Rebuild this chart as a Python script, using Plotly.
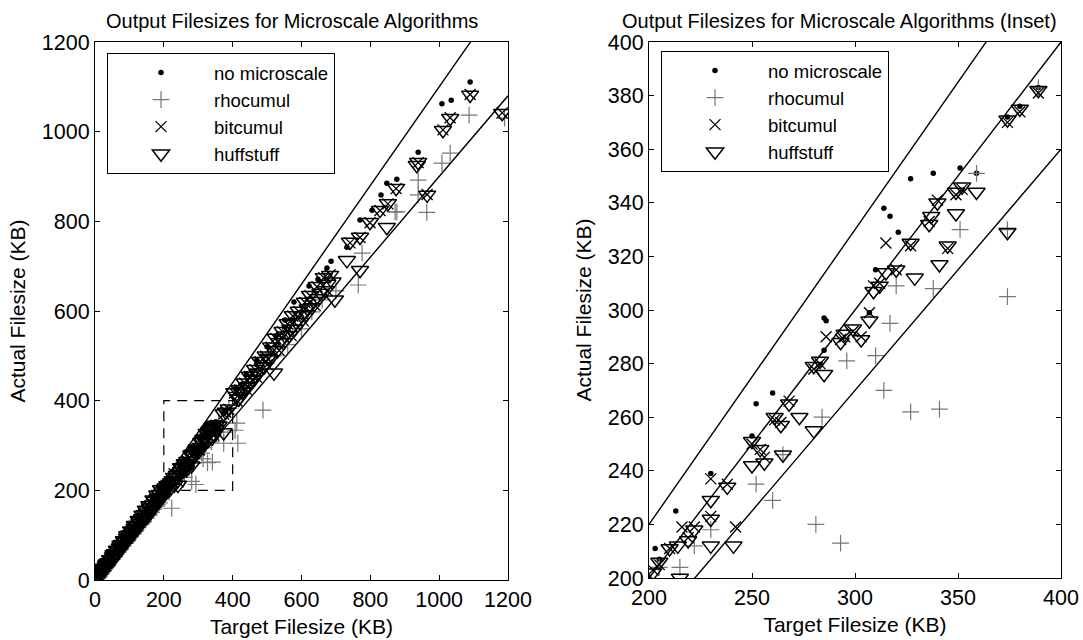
import numpy as np
import plotly.graph_objects as go

# ---------------- data (target KB, actual KB) ----------------
dot_x = [8, 14, 20, 26, 32, 38, 45, 52, 58, 65, 72, 79, 86, 93, 100, 108, 115, 122, 130, 137, 145, 152, 160, 168, 175, 183, 190, 197,
         11, 17, 23, 29, 35, 41, 48, 55, 62, 68, 75, 82, 89, 96, 104, 112, 119, 126, 134, 141, 149, 156, 164, 171, 179, 187, 194,
         203, 205, 213, 230, 250, 252, 260, 285, 285, 286, 307, 310, 314, 317, 321, 327, 338, 351, 359, 374, 380, 389,
         410, 440, 470, 500, 526, 552, 578, 622, 648, 674, 686,
         732, 770, 805, 831, 848, 877, 939, 1008, 1035, 1090]
dot_y = [9, 15, 21, 27, 34, 40, 47, 54, 61, 68, 75, 83, 90, 97, 104, 113, 120, 127, 135, 143, 151, 158, 167, 175, 182, 190, 198, 205,
         12, 18, 24, 31, 37, 43, 51, 58, 66, 72, 80, 87, 94, 101, 109, 118, 125, 132, 141, 148, 156, 164, 172, 179, 188, 196, 203,
         211, 207, 225, 239, 253, 265, 269, 285, 297, 296, 299, 315, 338, 335, 329, 349, 351, 353, 351, 372, 376, 383,
         430, 460, 490, 520, 544, 580, 620, 656, 671, 696, 711,
         742, 803, 825, 859, 885, 894, 954, 1062, 1070, 1111]

rho_x = [8, 14, 20, 26, 32, 38, 45, 52, 58, 65, 72, 79, 86, 93, 100, 108, 115, 122, 130, 137, 145, 152, 160, 168, 175, 183, 190, 197,
         11, 17, 23, 29, 35, 41, 48, 55, 62, 68, 75, 82, 89, 96, 104, 112, 119, 126, 134, 141, 149, 156, 164, 171, 179, 187, 194,
         16, 34, 54, 74, 94, 116, 138, 158, 181,
         205, 215, 222, 223, 230, 252, 260, 265, 281, 284, 293, 296, 310, 314, 317, 320, 327, 338, 341, 351, 359, 374, 374, 389,
         407, 412, 415, 488, 520, 560, 600, 630, 660, 700,
         765, 776, 872, 877, 939, 939, 964, 1008, 1032, 1087, 1190]
rho_y = [8, 13, 19, 25, 31, 36, 43, 50, 56, 62, 69, 76, 83, 89, 96, 104, 110, 117, 125, 131, 139, 146, 153, 161, 168, 176, 182, 189,
         10, 15, 21, 27, 32, 38, 45, 51, 57, 63, 70, 76, 82, 89, 96, 103, 110, 117, 124, 130, 138, 144, 151, 158, 165, 172, 179,
         15, 31, 50, 69, 87, 108, 128, 147, 168,
         204, 204, 212, 160, 218, 235, 229, 246, 220, 260, 213, 281, 283, 270, 295, 309, 262, 308, 263, 330, 351, 305, 330, 383,
         334, 350, 305, 379, 500, 525, 560, 598, 625, 645,
         658, 729, 821, 821, 892, 859, 820, 930, 952, 1037, 1030]

bit_x = [8, 14, 20, 26, 32, 38, 45, 52, 58, 65, 72, 79, 86, 93, 100, 108, 115, 122, 130, 137, 145, 152, 160, 168, 175, 183, 190, 197,
         11, 17, 23, 29, 35, 41, 48, 55, 62, 68, 75, 82, 89, 96, 104, 112, 119, 126, 134, 141, 149, 156, 164, 171, 179, 187, 194,
         202, 205, 210, 216, 219, 222, 230, 230, 238, 242, 250, 254, 256, 261, 264, 268, 280, 283, 286, 293, 295, 299, 303, 307, 309,
         312, 315, 320, 327, 336, 340, 345, 349, 352, 374, 380, 389,
         405, 420, 435, 450, 465, 480, 496, 512, 525, 545, 560, 575, 592, 610, 625, 645, 665, 683,
         412, 440, 470, 500, 535, 570, 605, 640, 675,
         741, 770, 799, 828, 851, 875, 939, 965, 1011, 1032, 1090, 1183]
bit_y = [9, 15, 20, 27, 32, 39, 45, 53, 58, 65, 73, 79, 87, 93, 100, 109, 115, 123, 130, 138, 145, 153, 160, 169, 175, 184, 190, 198,
         11, 17, 24, 30, 36, 42, 50, 57, 64, 70, 77, 85, 92, 99, 107, 115, 123, 130, 138, 146, 154, 161, 169, 176, 185, 192, 200,
         203, 205, 211, 219, 215, 219, 237, 223, 235, 219, 250, 248, 245, 259, 258, 266, 278, 280, 290, 289, 290, 292, 290, 299, 309,
         310, 325, 315, 324, 333, 341, 323, 343, 345, 370, 374, 381,
         417, 424, 439, 454, 469, 487, 499, 519, 539, 554, 571, 589, 599, 619, 634, 654, 674, 681,
         400, 425, 452, 480, 512, 545, 578, 612, 645,
         752, 764, 797, 824, 839, 873, 931, 860, 1004, 1031, 1083, 1042]

huff_x = [8, 14, 20, 26, 32, 38, 45, 52, 55, 58, 65, 72, 79, 86, 93, 100, 108, 110, 115, 122, 130, 137, 145, 150, 152, 160, 168, 175, 183, 185, 190, 197,
          11, 17, 23, 29, 35, 41, 48, 55, 62, 68, 75, 82, 89, 96, 104, 112, 119, 126, 134, 141, 149, 156, 164, 171, 179, 187, 194,
          6, 16, 24, 34, 44, 54, 64, 74, 84, 94, 105, 116, 127, 138, 148, 158, 170, 181, 192,
          202, 205, 210, 214, 215, 219, 222, 230, 230, 230, 238, 241, 250, 250, 254, 256, 261, 264, 265, 268, 273, 280, 280, 283, 285,
          293, 295, 299, 303, 307, 309, 312, 315, 320, 327, 329, 336, 337, 340, 341, 345, 349, 349, 352, 359, 374, 374, 380, 389,
          405, 412, 420, 428, 435, 442, 450, 458, 465, 472, 480, 488, 496, 505, 512, 520, 525, 535, 545, 552, 560, 568, 575, 585,
          592, 600, 610, 618, 625, 635, 645, 655, 665, 675, 683, 697,
          418, 416, 432, 446, 460, 476, 492, 508, 530, 548, 565, 580, 596, 614, 630, 650, 670, 690,
          732, 741, 770, 770, 799, 828, 848, 851, 875, 935, 939, 965, 1011, 1032, 1090, 1183]
huff_y = [9, 14, 21, 26, 33, 38, 46, 52, 50, 59, 66, 72, 80, 86, 94, 101, 108, 102, 116, 122, 131, 137, 146, 140, 152, 161, 168, 176, 183, 176, 191, 197,
          10, 16, 22, 27, 33, 39, 46, 52, 59, 64, 71, 78, 85, 91, 99, 106, 113, 120, 127, 134, 141, 148, 155, 162, 170, 177, 184,
          7, 17, 26, 36, 46, 57, 67, 78, 88, 99, 110, 122, 133, 145, 156, 166, 179, 190, 202,
          202, 206, 211, 212, 200, 214, 218, 222, 229, 212, 234, 212, 242, 251, 248, 243, 260, 257, 246, 265, 260, 255, 279, 281, 276,
          288, 291, 293, 289, 296, 307, 309, 314, 315, 325, 312, 332, 335, 340, 317, 324, 344, 336, 346, 344, 371, 329, 375, 382,
          418, 410, 425, 420, 440, 430, 455, 448, 470, 460, 488, 475, 500, 495, 520, 462, 540, 530, 555, 545, 572, 560, 590, 575,
          600, 590, 620, 605, 635, 622, 655, 640, 675, 660, 680, 625,
          404, 404, 420, 432, 446, 462, 476, 492, 512, 530, 546, 560, 575, 592, 608, 628, 646, 665,
          713, 754, 765, 691, 798, 825, 787, 840, 874, 925, 932, 859, 1003, 1030, 1082, 1041]

series_names = ["no microscale", "rhocumul", "bitcumul", "huffstuff"]

# reference lines (actual = slope * target)
slopes_left = [1.1, 0.9]
slopes_right = [1.1, 1.0, 0.9]
range_left = [0, 1200]
range_right = [200, 400]
inset_box = [200, 400]

FONT = "Liberation Sans, Arial, Helvetica, sans-serif"
GRAY = "#777777"

markers = [
    dict(symbol="circle", size=5.5, color="black"),
    dict(symbol="cross-thin-open", size=12, color=GRAY, line=dict(width=1.2, color=GRAY)),
    dict(symbol="x-thin-open", size=11, color="black", line=dict(width=1.3, color="black")),
    dict(symbol="triangle-down-open", size=15, color="black", line=dict(width=1.5, color="black")),
]
data_xy = [(dot_x, dot_y), (rho_x, rho_y), (bit_x, bit_y), (huff_x, huff_y)]

fig = go.Figure()

for xa, ya, lg in [("x", "y", "legend"), ("x2", "y2", "legend2")]:
    for name, (xs, ys), mk in zip(series_names, data_xy, markers):
        fig.add_trace(go.Scatter(x=xs, y=ys, mode="markers", name=name, marker=mk,
                                 xaxis=xa, yaxis=ya, legend=lg, showlegend=True))

for slopes, rng, xa, ya in [(slopes_left, range_left, "x", "y"), (slopes_right, range_right, "x2", "y2")]:
    xr = np.array(rng, dtype=float)
    for s in slopes:
        fig.add_trace(go.Scatter(x=xr, y=s * xr, mode="lines", line=dict(color="black", width=1.4),
                                 xaxis=xa, yaxis=ya, showlegend=False, hoverinfo="skip"))

W, H = 1083, 640
def px(v):
    return v / W
def py(v):
    return 1 - v / H

axis_common = dict(showline=True, linecolor="black", linewidth=1, mirror="ticks", ticks="inside",
                   ticklen=5, tickcolor="black", showgrid=False, zeroline=False, automargin=False,
                   tickfont=dict(family=FONT, size=21.5, color="black"))
xt = dict(font=dict(family=FONT, size=21, color="black"), standoff=8)
yt = dict(font=dict(family=FONT, size=21, color="black"), standoff=10)

fig.update_layout(
    width=W, height=H, margin=dict(l=0, r=0, t=0, b=0, autoexpand=False),
    paper_bgcolor="white", plot_bgcolor="white",
    font=dict(family=FONT, size=20, color="black"),
    xaxis=dict(domain=[px(95), px(508)], range=range_left, tickvals=[0, 200, 400, 600, 800, 1000, 1200],
               anchor="y", title=dict(text="Target Filesize (KB)", **xt), **axis_common),
    yaxis=dict(domain=[py(580), py(42)], range=range_left, tickvals=[0, 200, 400, 600, 800, 1000, 1200],
               anchor="x", title=dict(text="Actual Filesize (KB)", **yt), **axis_common),
    xaxis2=dict(domain=[px(649), px(1061)], range=range_right, tickvals=[200, 250, 300, 350, 400],
                anchor="y2", title=dict(text="Target Filesize (KB)", **xt), **axis_common),
    yaxis2=dict(domain=[py(578), py(42)], range=range_right, tickvals=list(range(200, 401, 20)),
                anchor="x2", title=dict(text="Actual Filesize (KB)", **yt), **axis_common),
    legend=dict(x=px(107), y=py(53), xanchor="left", yanchor="top", bgcolor="white",
                bordercolor="black", borderwidth=1, font=dict(family=FONT, size=18.5), itemwidth=96),
    legend2=dict(x=px(661), y=py(51), xanchor="left", yanchor="top", bgcolor="white",
                 bordercolor="black", borderwidth=1, font=dict(family=FONT, size=18.5), itemwidth=96),
    shapes=[dict(type="rect", xref="x", yref="y", x0=inset_box[0], y0=inset_box[0], x1=inset_box[1], y1=inset_box[1],
                 line=dict(color="black", width=1.2, dash="10px,7px"))],
    annotations=[
        dict(text="Output Filesizes for Microscale Algorithms", x=px(292), y=py(21), xref="paper", yref="paper",
             showarrow=False, font=dict(family=FONT, size=20, color="black"), xanchor="center", yanchor="middle"),
        dict(text="Output Filesizes for Microscale Algorithms (Inset)", x=px(839), y=py(21), xref="paper", yref="paper",
             showarrow=False, font=dict(family=FONT, size=20, color="black"), xanchor="center", yanchor="middle"),
    ],
)

fig.write_html("out.html")
